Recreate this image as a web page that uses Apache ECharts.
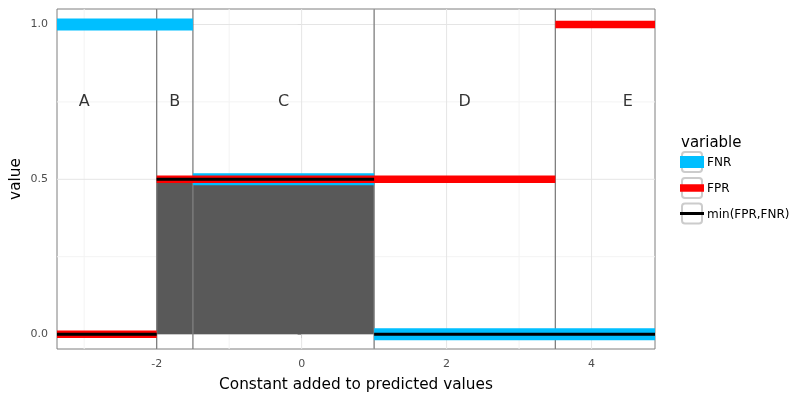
<!DOCTYPE html>
<html><head><meta charset="utf-8">
<script src="https://cdn.jsdelivr.net/npm/echarts@6/dist/echarts.min.js"></script>
<style>html,body{margin:0;padding:0;background:#fff}#c{width:800px;height:400px}</style>
</head><body><div id="c"></div>
<script>
// ---- data ----
const xLimits = [-3.375, 4.875];
const yLimits = [-0.048, 1.05];
const breakpoints = [-2, -1.5, 1, 3.5];
const regionNames = ['A', 'B', 'C', 'D', 'E'];
const regionLabelX = [-3, -1.75, -0.25, 2.25, 4.5];
const regionLabelY = 0.75;
const fnr = [1, 1, 0.5, 0, 0];
const fpr = [0, 0.5, 0.5, 0.5, 1];
const minRate = [0, 0.5, 0.5, 0, 0];
const shadeRange = [-2, 1];
const xTicks = [-2, 0, 2, 4];
const xTickLabels = ['-2', '0', '2', '4'];
const xMinor = [-3, -1, 1, 3];
const yTicks = [0, 0.5, 1];
const yTickLabels = ['0.0', '0.5', '1.0'];
const yMinor = [0.25, 0.75];
const seriesNames = ['FNR', 'FPR', 'min(FPR,FNR)'];
const seriesColors = ['#00BFFF', '#FF0000', '#000000'];

// ---- helpers ----
const edges = [xLimits[0], ...breakpoints, xLimits[1]];
function stepData(vals) {
  const out = [];
  let start = edges[0], cur = vals[0];
  for (let i = 1; i <= vals.length; i++) {
    if (i === vals.length || vals[i] !== cur) {
      if (out.length) out.push([start, '-']);
      out.push([start, cur], [edges[i], cur]);
      if (i < vals.length) { start = edges[i]; cur = vals[i]; }
    }
  }
  return out;
}
function vLines(xs) {
  const out = [];
  xs.forEach((x, i) => { if (i) out.push([x, '-']); out.push([x, yLimits[0]], [x, yLimits[1]]); });
  return out;
}
function hLines(ys) {
  const out = [];
  ys.forEach((y, i) => { if (i) out.push(['-', y]); out.push([xLimits[0], y], [xLimits[1], y]); });
  return out;
}
const shadeData = [];
for (let i = 0; i < minRate.length; i++) {
  if (edges[i] >= shadeRange[0] && edges[i + 1] <= shadeRange[1]) {
    shadeData.push([edges[i], minRate[i]], [edges[i + 1], minRate[i]]);
  }
}

const font = 'DejaVu Sans';
const chart = echarts.init(document.getElementById('c'), null, {renderer: 'canvas'});
const widths = [12, 7.5, 3];
const valsList = [fnr, fpr, minRate];

const legendGraphics = [{
  type: 'text', left: 681, top: 136,
  style: {text: 'variable', font: '15px "DejaVu Sans"', fill: '#000'}
}];
const legendY = [162, 188, 213.5];
seriesNames.forEach((n, i) => {
  const cy = legendY[i];
  legendGraphics.push({
    type: 'rect', shape: {x: 682, y: cy - 10, width: 20, height: 20, r: 3},
    style: {fill: '#fff', stroke: '#cccccc', lineWidth: 2}
  });
  legendGraphics.push({
    type: 'rect', shape: {x: 680, y: cy - widths[i] / 2, width: 24, height: widths[i]},
    style: {fill: seriesColors[i]}
  });
  legendGraphics.push({
    type: 'text', left: 707, top: cy - 5,
    style: {text: n, font: '12px "DejaVu Sans"', fill: '#000'}
  });
});

const plain = {type: 'line', symbol: 'none', silent: true, connectNulls: false};
const option = {
  animation: false,
  grid: {left: 57, right: 145, top: 9, bottom: 51, show: true, borderColor: '#7f7f7f', borderWidth: 1,
    backgroundColor: 'transparent', containLabel: false, outerBoundsMode: 'none'},
  xAxis: {
    type: 'value', min: xLimits[0], max: xLimits[1],
    name: 'Constant added to predicted values', nameLocation: 'middle', nameGap: 29, nameMoveOverlap: false,
    nameTextStyle: {fontFamily: font, fontSize: 15.3, color: '#000'},
    axisLine: {show: false},
    axisTick: {show: true, length: 4, lineStyle: {color: '#333'}, customValues: xTicks},
    axisLabel: {show: true, margin: 10, fontFamily: font, fontSize: 11, color: '#4d4d4d', customValues: xTicks,
      formatter: v => { const k = xTicks.indexOf(v); return k >= 0 ? xTickLabels[k] : ''; }},
    splitLine: {show: false}
  },
  yAxis: {
    type: 'value', min: yLimits[0], max: yLimits[1],
    name: 'value', nameLocation: 'middle', nameGap: 33, nameMoveOverlap: false,
    nameTextStyle: {fontFamily: font, fontSize: 15.3, color: '#000'},
    axisLine: {show: false},
    axisTick: {show: true, length: 4, lineStyle: {color: '#333'}, customValues: yTicks},
    axisLabel: {show: true, margin: 9, fontFamily: font, fontSize: 11, color: '#4d4d4d', customValues: yTicks,
      formatter: v => { const k = yTicks.indexOf(v); return k >= 0 ? yTickLabels[k] : ''; }},
    splitLine: {show: false}
  },
  graphic: legendGraphics,
  series: [
    Object.assign({}, plain, {z: 1, data: vLines(xMinor), lineStyle: {color: '#f3f3f3', width: 1}}),
    Object.assign({}, plain, {z: 1, data: hLines(yMinor), lineStyle: {color: '#f3f3f3', width: 1}}),
    Object.assign({}, plain, {z: 1, data: vLines(xTicks), lineStyle: {color: '#e5e5e5', width: 1}}),
    Object.assign({}, plain, {z: 1, data: hLines(yTicks), lineStyle: {color: '#e5e5e5', width: 1}}),
    Object.assign({}, plain, {z: 2, data: shadeData, lineStyle: {width: 0}, areaStyle: {color: '#595959', opacity: 1, origin: 0}}),
    Object.assign({}, plain, {z: 3, data: vLines(breakpoints), lineStyle: {color: '#808080', width: 1.3}}),
    ...seriesNames.map((n, i) => Object.assign({}, plain, {
      name: n, z: 4 + i, data: stepData(valsList[i]),
      lineStyle: {color: seriesColors[i], width: widths[i], cap: 'butt', join: 'miter'}
    })),
    {
      type: 'scatter', z: 10, symbolSize: 1, itemStyle: {color: 'rgba(0,0,0,0)'}, silent: true,
      data: regionNames.map((n, i) => ({name: n, value: [regionLabelX[i], regionLabelY]})),
      label: {show: true, position: 'inside', formatter: p => p.name, fontFamily: font, fontSize: 16, color: '#000'}
    }
  ]
};
chart.setOption(option);
</script>
</body></html>
